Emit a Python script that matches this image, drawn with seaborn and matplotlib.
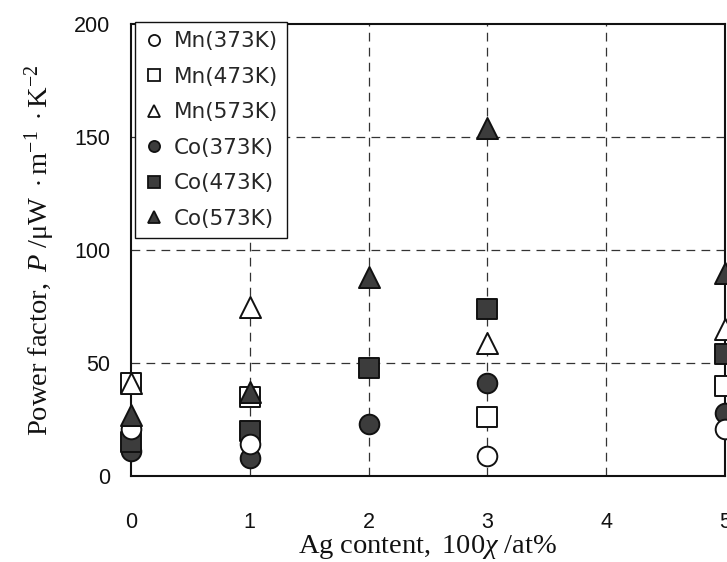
import matplotlib
matplotlib.use("Agg")
import matplotlib.pyplot as plt
import seaborn as sns
import pandas as pd

# ---- data ----
x_mn = [0, 1, 3, 5]
mn_373 = [21, 14, 9, 21]
mn_473 = [41, 35, 26, 40]
mn_573 = [41, 75, 59, 65]

x_co = [0, 1, 2, 3, 5]
co_373 = [11, 8, 23, 41, 28]
co_473 = [15, 20, 48, 74, 54]
co_573 = [27, 37, 88, 154, 90]

x_ticks = [0, 1, 2, 3, 4, 5]
y_ticks = [0, 50, 100, 150, 200]

sns.set_theme(style="white")
plt.rcParams["font.family"] = ["Liberation Sans", "DejaVu Sans"]
plt.rcParams["mathtext.fontset"] = "custom"
plt.rcParams["mathtext.rm"] = "Liberation Serif"
plt.rcParams["mathtext.it"] = "Liberation Serif:italic"

fig = plt.figure(figsize=(7.27, 5.62), dpi=100)
ax = fig.add_axes([131 / 727, (562 - 476) / 562, (725 - 131) / 727, (476 - 24) / 562])

dark = "#3c3c3c"
series = [
    # label, x, y, marker, face, size, zorder
    ("Co(373K)", x_co, co_373, "o", dark, 200, 3),
    ("Co(473K)", x_co, co_473, "s", dark, 190, 3.1),
    ("Mn(373K)", x_mn, mn_373, "o", "white", 200, 3.2),
    ("Mn(473K)", x_mn, mn_473, "s", "white", 190, 3.3),
    ("Mn(573K)", x_mn, mn_573, "^", "white", 230, 3.4),
    ("Co(573K)", x_co, co_573, "^", dark, 230, 3.5),
]
handles = {}
for label, xs, ys, m, fc, s, z in series:
    df = pd.DataFrame({"x": xs, "y": ys})
    sns.scatterplot(data=df, x="x", y="y", ax=ax, marker=m, s=s,
                    color=fc, edgecolor="#111111", linewidth=1.4,
                    zorder=z, clip_on=False, legend=False)
    handles[label] = plt.Line2D([], [], linestyle="none", marker=m,
                                markersize=9 if m != "o" else 8,
                                markerfacecolor=fc, markeredgecolor="#111111",
                                markeredgewidth=1.3)

ax.set_xlim(0, 5)
ax.set_ylim(0, 200)
ax.set_xticks(x_ticks)
ax.set_yticks(y_ticks)
ax.set_xticklabels([str(v) for v in x_ticks], fontsize=15.5)
ax.set_yticklabels([str(v) for v in y_ticks], fontsize=15.5)
ax.tick_params(axis="x", length=0, pad=26, colors="#111111")
ax.tick_params(axis="y", length=0, pad=15, colors="#111111")

for v in [1, 2, 3, 4]:
    ax.axvline(v, color="#333333", lw=0.9, ls=(0, (7, 5)), zorder=1)
for v in [50, 100, 150]:
    ax.axhline(v, color="#333333", lw=0.9, ls=(0, (7, 5)), zorder=1)

for sp in ax.spines.values():
    sp.set_visible(True)
    sp.set_color("#111111")
    sp.set_linewidth(1.5)

ax.set_xlabel(r"$\mathrm{Ag\ content,\ 100}\mathit{\chi}\ \mathrm{/at\%}$",
              fontsize=20.5, labelpad=0, color="#111111")
ax.set_ylabel(r"$\mathrm{Power\ factor,}\ \mathit{P}\ \mathrm{/\mu W\ \cdot m^{-1}\ \cdot K^{-2}}$",
              fontsize=20.5, labelpad=12, color="#111111")

order = ["Mn(373K)", "Mn(473K)", "Mn(573K)", "Co(373K)", "Co(473K)", "Co(573K)"]
leg = ax.legend([handles[k] for k in order], order, loc="upper left",
                bbox_to_anchor=(135 / 727, 1 - 22 / 562),
                bbox_transform=fig.transFigure, borderaxespad=0,
                prop={"family": "DejaVu Sans", "size": 15.5},
                frameon=True, fancybox=False, framealpha=1,
                edgecolor="#111111", labelspacing=0.72, handlelength=0.9,
                handletextpad=0.5, borderpad=0.42)
leg.get_frame().set_linewidth(1.0)
leg.set_zorder(10)

fig.savefig("out.png", dpi=100)
